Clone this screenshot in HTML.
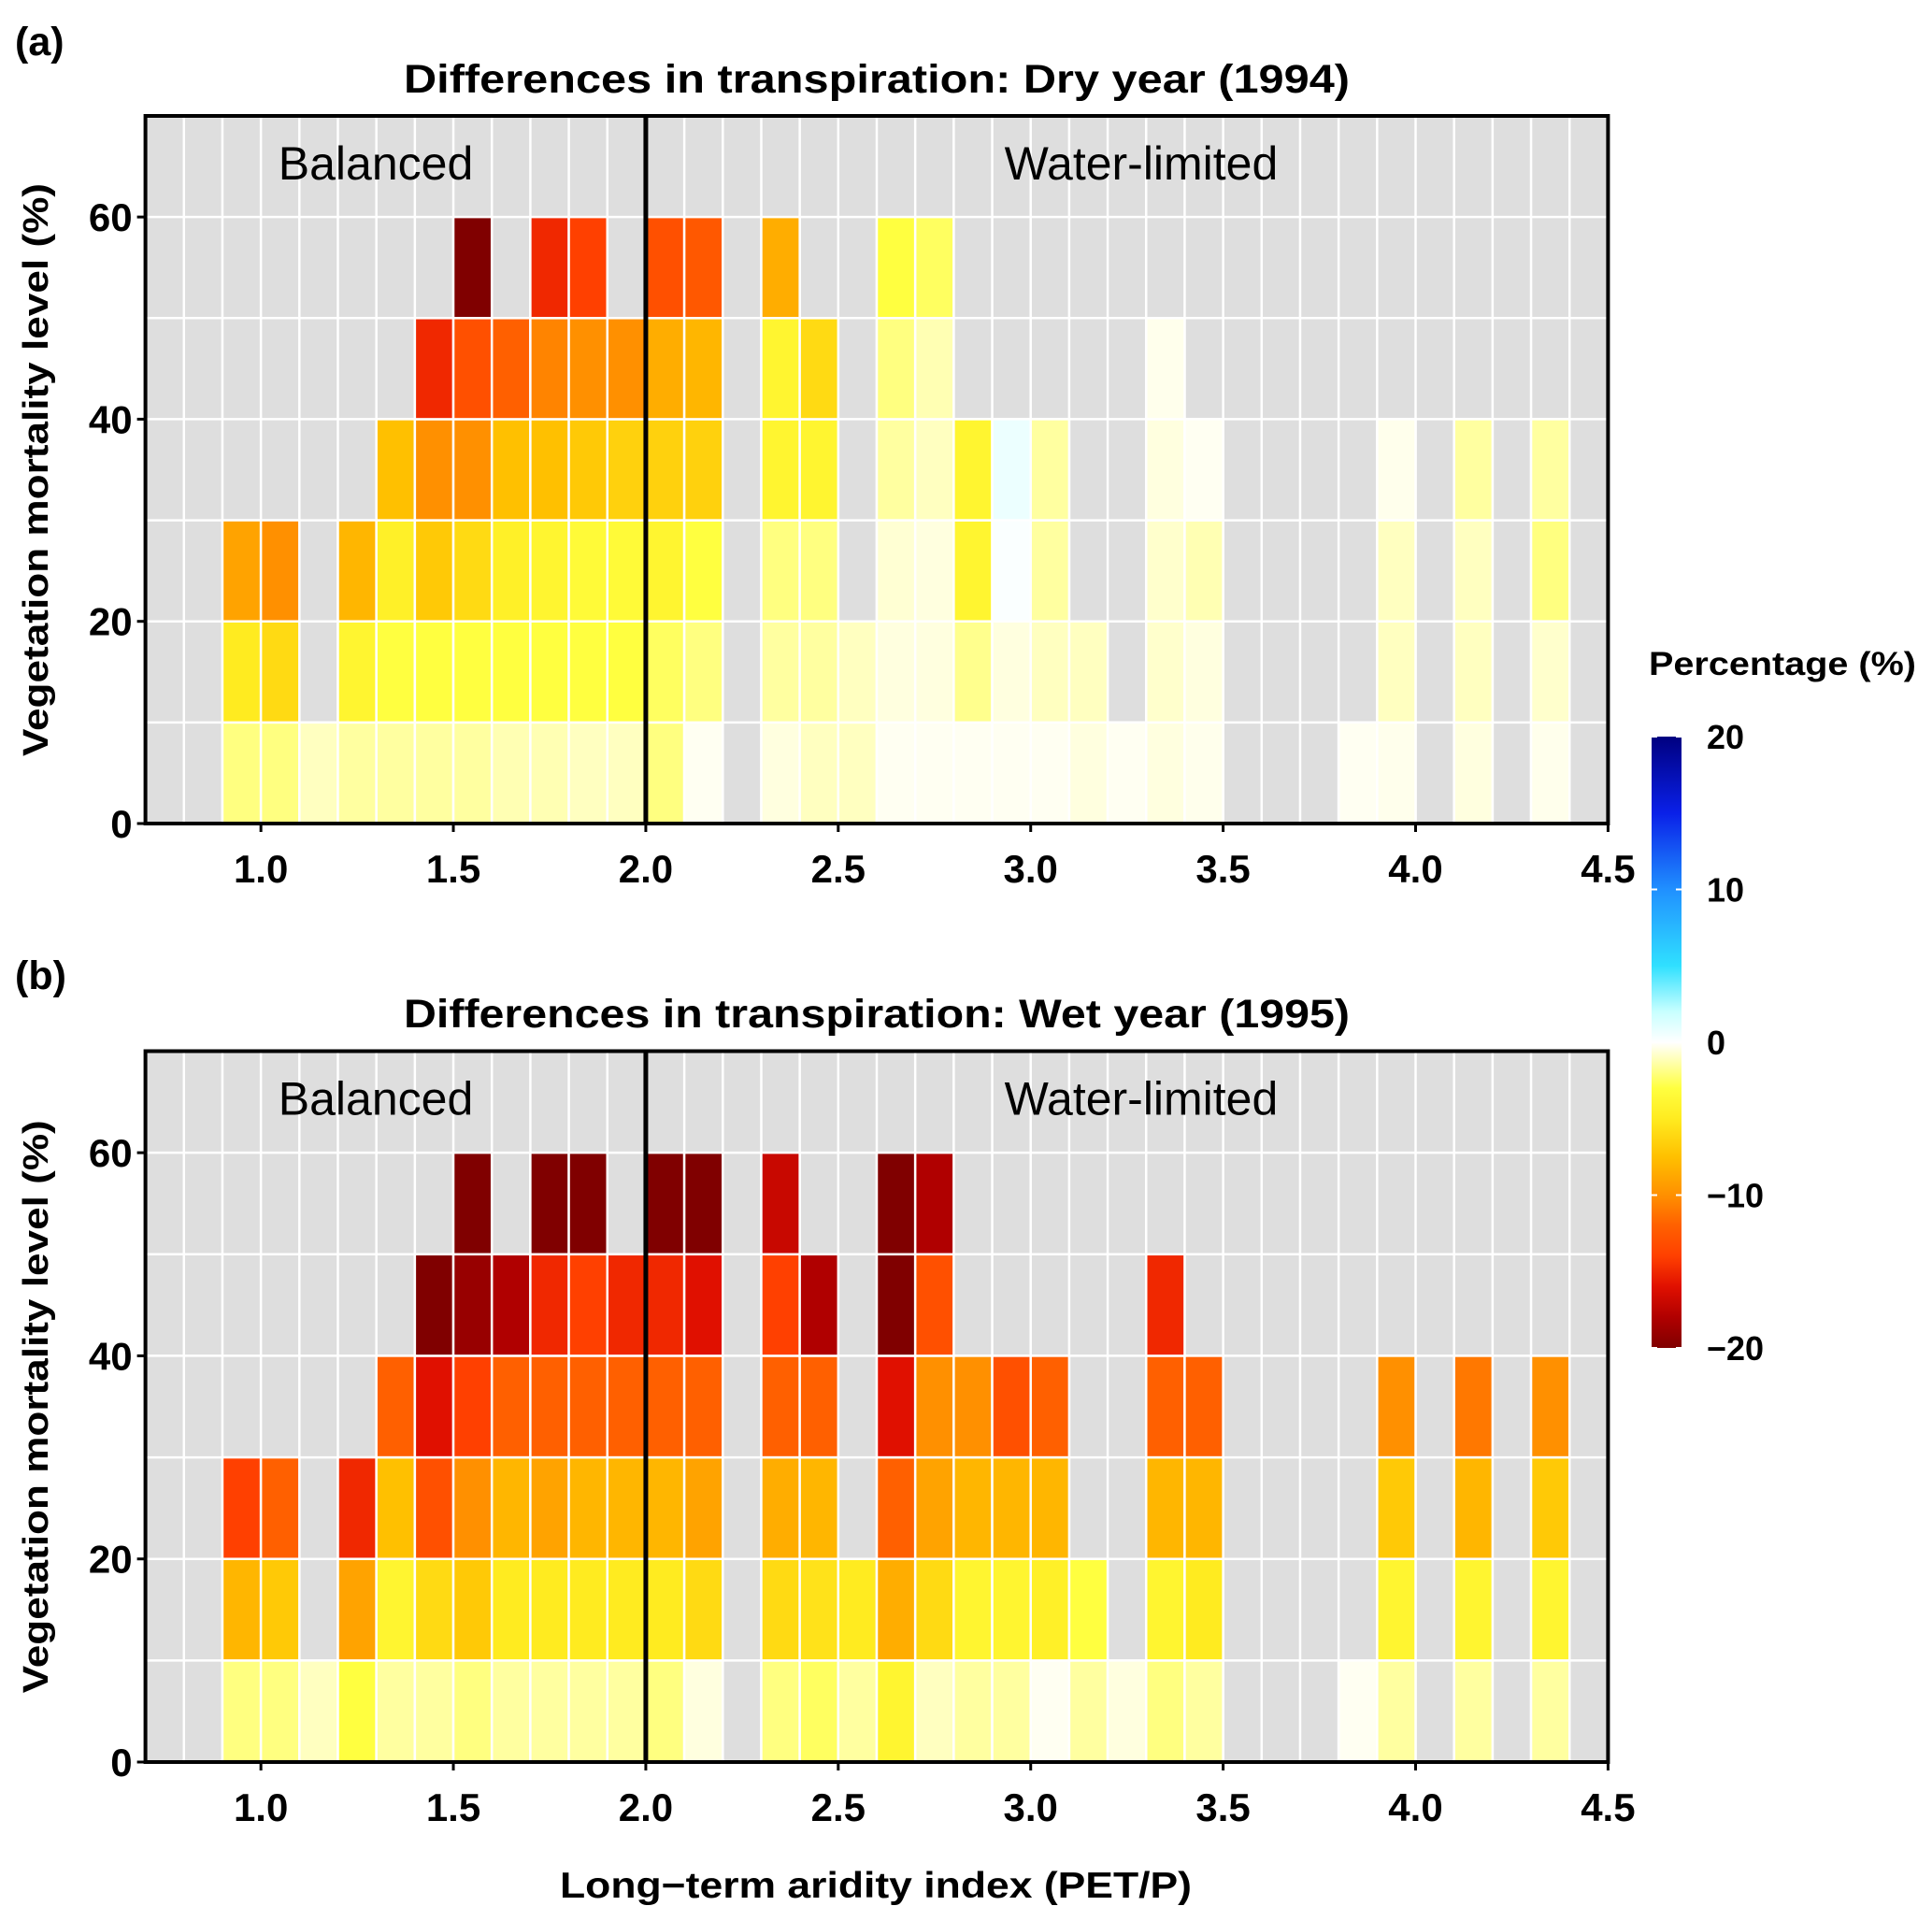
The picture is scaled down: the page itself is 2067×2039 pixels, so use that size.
<!DOCTYPE html>
<html><head><meta charset="utf-8"><style>
html,body{margin:0;padding:0;background:#fff;}
svg{display:block;font-family:"Liberation Sans",Arial,sans-serif;}
</style></head><body>
<svg id="chart" width="2067" height="2039" viewBox="0 0 2067 2039" xmlns="http://www.w3.org/2000/svg">
<defs>
<linearGradient id="cbar" x1="0" y1="1" x2="0" y2="0">
<stop offset="0" stop-color="#800000"/>
<stop offset="0.05" stop-color="#b00000"/>
<stop offset="0.1" stop-color="#e01000"/>
<stop offset="0.15" stop-color="#ff4000"/>
<stop offset="0.2" stop-color="#ff6000"/>
<stop offset="0.25" stop-color="#ff9000"/>
<stop offset="0.3125" stop-color="#ffc000"/>
<stop offset="0.375" stop-color="#ffeb20"/>
<stop offset="0.425" stop-color="#ffff40"/>
<stop offset="0.4625" stop-color="#ffffa0"/>
<stop offset="0.5" stop-color="#ffffff"/>
<stop offset="0.55" stop-color="#c8ffff"/>
<stop offset="0.625" stop-color="#30e0ff"/>
<stop offset="0.75" stop-color="#2090ff"/>
<stop offset="0.875" stop-color="#0a20e8"/>
<stop offset="1" stop-color="#000080"/>
</linearGradient>
</defs>
<g id="panels"></g>
<g>
<text x="1764" y="722" font-size="35" font-weight="bold" textLength="286" lengthAdjust="spacingAndGlyphs">Percentage (%)</text>
<rect x="1767" y="788" width="32" height="654" fill="url(#cbar)"/>
<g id="cbticks"></g>
</g>
<text x="937" y="2030" font-size="39" font-weight="bold" text-anchor="middle" textLength="676" lengthAdjust="spacingAndGlyphs">Long−term aridity index (PET/P)</text>
</svg>
<script>
const NS = "http://www.w3.org/2000/svg";
// aridity bins: lower edges of 0.1-wide bins
const aridityBins = [0.9,1.0,1.1,1.2,1.3,1.4,1.5,1.6,1.7,1.8,1.9,2.0,2.1,2.2,2.3,2.4,2.5,2.6,2.7,2.8,2.9,3.0,3.1,3.2,3.3,3.4,3.5,3.6,3.7,3.8,3.9,4.0,4.1,4.2,4.3];
// mortality bins: lower edges (10-wide)
const mortalityBins = [0,10,20,30,40,50];
const xTicks = [1.0,1.5,2.0,2.5,3.0,3.5,4.0,4.5];
const xTickLabels = ["1.0","1.5","2.0","2.5","3.0","3.5","4.0","4.5"];
const yTicks = [0,20,40,60];
const cbTicks = [20,10,0,-10,-20];
const cbTickLabels = ["20","10","0","\u221210","\u221220"];
const N = null;
// Dry year (1994): rows per mortality bin, columns per aridity bin
const dry0  = [-2,-2,-1,-1.5,-1.5,-1.5,-1.5,-1.2,-1.2,-1,-1,-2,-0.2,N,-0.5,-1,-1,-0.2,-0.2,-0.2,-0.2,-0.2,-0.5,-0.2,-0.5,-0.3,N,N,N,-0.2,-0.3,N,-0.5,N,-0.3];
const dry10 = [-5,-6,N,-4,-3,-3,-3,-3,-3,-3,-3,-2.5,-2,N,-1.5,-1.5,-1,-0.5,-0.5,-1.8,-0.5,-1,-1,N,-0.8,-0.5,N,N,N,N,-1,N,-1,N,-0.8];
const dry20 = [-9,-10,N,-8,-4.5,-7,-6,-4.5,-4,-3.5,-3.5,-4,-3,N,-2,-2,N,-0.7,-0.5,-4,0.2,-1.5,N,N,-0.8,-1.2,N,N,N,N,-1,N,-1,N,-2];
const dry30 = [N,N,N,N,-7.5,-10,-10,-7.5,-7.5,-7,-6.5,-6.5,-6.5,N,-4,-4,N,-1.5,-1,-4,0.7,-1.5,N,N,-0.5,-0.2,N,N,N,N,-0.3,N,-1.5,N,-1.5];
const dry40 = [N,N,N,N,N,-15,-13,-12,-10.5,-10,-10,-8.5,-8,N,-4,-6,N,-2,-1.2,N,N,N,N,N,-0.3,N,N,N,N,N,N,N,N,N,N];
const dry50 = [N,N,N,N,N,N,-20,N,-15,-14,N,-13,-12.5,N,-8.5,N,N,-3,-2.5,N,N,N,N,N,N,N,N,N,N,N,N,N,N,N,N];
// Wet year (1995)
const wet0  = [-2,-2,-1,-3,-1.5,-1.5,-2,-1.5,-1.5,-1.5,-1.5,-2,-0.5,N,-2,-2.5,-1.5,-4,-1,-1.5,-1.5,-0.2,-1.5,-0.5,-2,-1.5,N,N,N,-0.2,-1.5,N,-1.5,N,-1.5];
const wet10 = [-8,-7,N,-9,-4,-6,-7,-5,-5,-5,-5,-5,-6,N,-6,-5.5,-5,-8.5,-6,-4,-4,-4.5,-3,N,-4,-5,N,N,N,N,-4,N,-4,N,-4];
const wet20 = [-14,-12,N,-15,-7.5,-13,-10,-8,-9,-8,-8,-8,-9,N,-8.5,-8,N,-12,-9,-8,-8,-8,N,N,-8,-8,N,N,N,N,-7,N,-8,N,-7];
const wet30 = [N,N,N,N,-12,-16,-14,-12,-12,-12,-12,-12,-12,N,-12,-12,N,-16,-10,-10,-13,-12,N,N,-12,-12,N,N,N,N,-10,N,-11,N,-10];
const wet40 = [N,N,N,N,N,-20,-19,-18,-15,-14,-15,-15,-16,N,-14,-18,N,-20,-13,N,N,N,N,N,-15,N,N,N,N,N,N,N,N,N,N];
const wet50 = [N,N,N,N,N,N,-20.5,N,-20,-20,N,-20,-20,N,-17,N,N,-20,-18,N,N,N,N,N,N,N,N,N,N,N,N,N,N,N,N];

const dryRows = [dry0,dry10,dry20,dry30,dry40,dry50];
const wetRows = [wet0,wet10,wet20,wet30,wet40,wet50];

const stops = [[-20,[128,0,0]],[-18,[176,0,0]],[-16,[224,16,0]],[-14,[255,64,0]],[-12,[255,96,0]],[-10,[255,144,0]],[-7.5,[255,192,0]],[-5,[255,235,32]],[-3,[255,255,64]],[-1.5,[255,255,160]],[0,[255,255,255]],[2,[200,255,255]],[5,[48,224,255]],[10,[32,144,255]],[15,[10,32,232]],[20,[0,0,128]]];
function color(v){
  v=Math.max(-20,Math.min(20,v));
  for(let i=0;i<stops.length-1;i++){
    const [a,ca]=stops[i],[b,cb]=stops[i+1];
    if(v>=a&&v<=b){const t=(v-a)/(b-a);
      return "rgb("+ca.map((c,k)=>Math.round(c+(cb[k]-c)*t)).join(",")+")";}
  }
  return "#fff";
}
function el(tag,attrs,parent){const e=document.createElementNS(NS,tag);for(const k in attrs)e.setAttribute(k,attrs[k]);parent.appendChild(e);return e;}

const X0=155.6, X1=1720.4, XMIN=0.7, XMAX=4.5;
function xs(v){return X0+(v-XMIN)*(X1-X0)/(XMAX-XMIN);}

const panelsG=document.getElementById("panels");
const panels=[
 {top:124,bottom:881,rows:dryRows,title:"Differences in transpiration: Dry year (1994)",tag:"(a)",titleY:99,tagY:59,key:"dry"},
 {top:1124.5,bottom:1885,rows:wetRows,title:"Differences in transpiration: Wet year (1995)",tag:"(b)",titleY:1099,tagY:1058,key:"wet"}
];
panels.forEach(p=>{
  const ys=v=>p.bottom-(v/70)*(p.bottom-p.top);
  const g=el("g",{},panelsG);
  
  
  const bg=el("rect",{x:X0,y:p.top,width:X1-X0,height:p.bottom-p.top,fill:"#dedede"},g);
  
  
  for(let v=0.8;v<4.45;v+=0.1){
    const l=el("line",{x1:xs(v),x2:xs(v),y1:p.top,y2:p.bottom,stroke:"#fff","stroke-width":2.5},g);
    
    
  }
  for(let v=10;v<70;v+=10){
    const l=el("line",{x1:X0,x2:X1,y1:ys(v),y2:ys(v),stroke:"#fff","stroke-width":2.5},g);
    
    
  }
  p.rows.forEach((row,ri)=>{
    row.forEach((val,ci)=>{
      if(val===null)return;
      const a=aridityBins[ci], m=mortalityBins[ri];
      const r=el("rect",{x:xs(a),y:ys(m+10),width:xs(a+0.1)-xs(a),height:ys(m)-ys(m+10),fill:color(val),stroke:"#fff","stroke-width":2.5},g);
      
      
    });
  });
  const div=el("line",{x1:xs(2.0),x2:xs(2.0),y1:p.top,y2:p.bottom,stroke:"#000","stroke-width":5},g);
  
  
  const bd=el("rect",{x:X0,y:p.top,width:X1-X0,height:p.bottom-p.top,fill:"none",stroke:"#000","stroke-width":4},g);
  
  
  const t1=el("text",{x:402,y:p.top+68,"font-size":50,"text-anchor":"middle"},g);t1.textContent="Balanced";
  
  
  const t2=el("text",{x:1221,y:p.top+68,"font-size":50,"text-anchor":"middle"},g);t2.textContent="Water-limited";
  
  
  xTicks.forEach((v,i)=>{
    const tk=el("line",{x1:xs(v),x2:xs(v),y1:p.bottom,y2:p.bottom+9,stroke:"#000","stroke-width":3},g);
    
    
    const tl=el("text",{x:xs(v),y:p.bottom+63,"font-size":42,"font-weight":"bold","text-anchor":"middle"},g);
    tl.textContent=xTickLabels[i];
    
    
  });
  yTicks.forEach(v=>{
    const tk=el("line",{x1:X0-9,x2:X0,y1:ys(v),y2:ys(v),stroke:"#000","stroke-width":3},g);
    
    
    const tl=el("text",{x:X0-14,y:ys(v)+15,"font-size":42,"font-weight":"bold","text-anchor":"end"},g);
    tl.textContent=String(v);
    
    
  });
  const cy=(p.top+p.bottom)/2;
  const yt=el("text",{x:0,y:0,"font-size":38,"font-weight":"bold","text-anchor":"middle",transform:"translate(51,"+cy+") rotate(-90)",textLength:613,lengthAdjust:"spacingAndGlyphs"},g);
  yt.textContent="Vegetation mortality level (%)";
  
  
  const ti=el("text",{x:938,y:p.titleY,"font-size":43,"font-weight":"bold","text-anchor":"middle",textLength:1012,lengthAdjust:"spacingAndGlyphs"},g);
  ti.textContent=p.title;
  
  
  const tg=el("text",{x:16,y:p.tagY,"font-size":43,"font-weight":"bold"},g);
  tg.textContent=p.tag;
  
  
});
const cbG=document.getElementById("cbticks");
const CB_TOP=788, CB_BOT=1442;
cbTicks.forEach((v,i)=>{
  const y=CB_BOT-(v+20)/40*(CB_BOT-CB_TOP);
  const a=el("line",{x1:1767,x2:1773,y1:y,y2:y,stroke:"#fff","stroke-width":2},cbG);
  
  
  const b=el("line",{x1:1793,x2:1799,y1:y,y2:y,stroke:"#fff","stroke-width":2},cbG);
  
  
  const t=el("text",{x:1826,y:y+13,"font-size":36,"font-weight":"bold"},cbG);
  t.textContent=cbTickLabels[i];
  
  
});
</script>
</body></html>
